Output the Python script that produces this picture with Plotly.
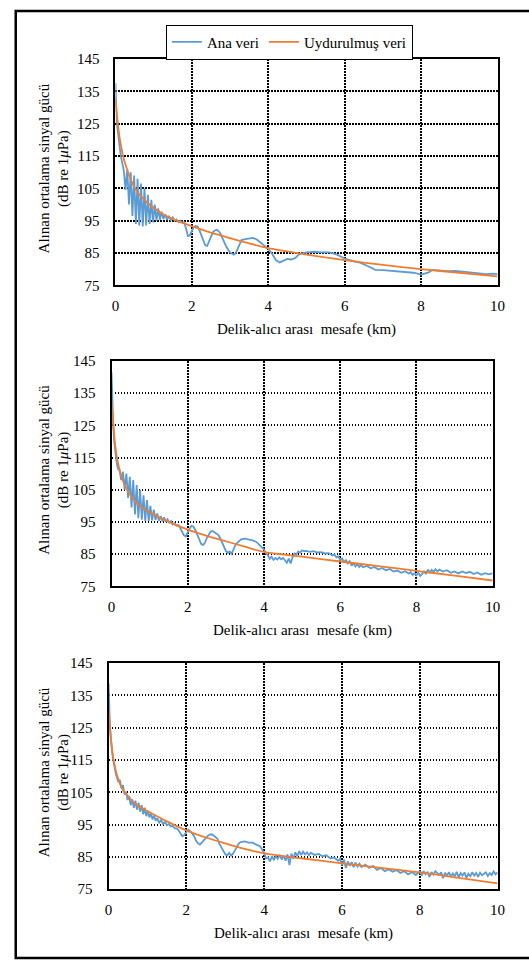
import plotly.graph_objects as go

W, H = 529, 969

# ---------------- data ----------------
# Panel 1
p1_ana_x = [0.000,0.005,0.015,0.03,0.05,0.07,0.09,0.11,0.13,0.15,0.17,0.19,
            0.22,0.265,0.31,0.355,0.40,0.445,0.49,0.535,0.58,0.625,0.67,0.715,0.76,0.805,0.85,0.895,0.94,0.985,
            1.03,1.075,1.12,1.165,1.21,1.255,1.3,1.35,1.4,1.45,1.5,1.55,1.6,1.65,1.7,1.75,1.8,
            1.85,1.9,1.95,2.0,2.05,2.1,2.15,2.2,2.25,2.3,
            2.35,2.4,2.45,2.5,2.55,2.6,2.65,2.7,2.75,2.8,2.85,2.9,2.95,3.0,3.05,3.1,3.15,3.2,3.25,3.3,
            3.4,3.5,3.6,3.7,3.8,3.9,4.0,4.1,4.2,4.3,4.4,4.5,4.6,4.7,4.8,4.9,5.0,5.2,5.4,5.6,
            5.8,6.0,6.2,6.4,6.6,6.8,7.0,7.2,7.4,7.6,7.8,8.0,8.1,8.2,8.3,8.5,8.7,8.9,9.1,9.3,
            9.5,9.7,9.9,10.0]
p1_ana_y = [137.5,134,131,127,124,121.5,119.5,118,116,114.5,113.5,112,
            110.5,104.5,110.8,100,110,96.5,109,94,108,93.5,106.5,93.2,105,93.5,103,94,101.5,94.5,
            100,95,98.8,95.3,97.8,95.5,97,95.3,96.5,95.2,96,95,95.4,94.6,95,94.4,94.5,
            92.5,90.2,90.5,92,93,93.4,93.2,92,90.5,88.8,
            87.4,87.2,88.6,90.3,91.4,92,92.2,91.8,91,89.6,88.2,87,86,85.2,84.8,84.5,85,86.5,88,89,
            89.3,89.6,89.7,89.2,88.3,87.3,86.3,84.8,82.8,82.1,82.7,83.2,83,83.4,84.5,85,85.2,85.4,85.2,85.2,
            84.5,83.3,82.6,82,81,79.8,79.7,79.5,79.3,79.3,78.9,78.3,78.6,79,79.8,79.6,79.4,79.5,79.2,79,
            78.7,78.5,78.6,78.5]
p1_fit_x = [0, 0.05, 0.1, 0.15, 0.2, 0.3, 0.4, 0.5, 0.6, 0.8, 1.0, 1.25, 1.5, 2, 2.5, 3, 3.5, 4, 5, 6, 7, 8, 9, 10]
p1_fit_y = [132.8, 126.5, 121.5, 118, 115, 111, 107.8, 105.3, 103.5, 101, 99, 97, 95.5, 93.3, 91.3, 89.6, 88,
            86.5, 84.5, 82.8, 81.3, 80, 78.9, 77.8]

# Panel 2
p2_ana_x = [0,0.01,0.03,0.05,0.07,0.09,0.11,0.13,0.15,0.17,
            0.21,0.255,0.30,0.345,0.39,0.435,0.48,0.525,0.57,0.615,0.66,0.705,0.75,0.795,0.84,0.885,0.93,0.975,
            1.02,1.065,1.11,1.155,1.2,1.245,1.29,1.335,1.38,1.425,1.47,1.515,1.56,1.6,
            1.65,1.7,1.75,1.8,1.85,1.9,1.95,2.0,2.05,2.1,2.15,2.2,2.25,2.3,
            2.35,2.4,2.45,2.5,2.55,2.6,2.65,2.7,2.75,2.8,2.85,2.9,2.95,3.0,3.05,3.1,3.15,3.2,3.25,3.3,
            3.35,3.4,3.5,3.6,3.7,3.8,3.9,3.95,4.0,4.05,4.1,4.15,4.2,4.25,4.3,4.35,4.4,4.45,4.5,4.55,
            4.6,4.65,4.7,4.75,4.8,4.85,4.9,4.95,5.0,5.05,5.1,5.2,5.3,5.4,5.5,5.6,5.7,5.8,5.85,5.9,
            5.95,6.0,6.05,6.1,6.15,6.2,6.25,6.3,6.35,6.4,6.45,6.5,6.55,6.6,6.7,6.8,6.9,7.0,7.1,7.2,
            7.3,7.4,7.5,7.6,7.7,7.8,7.85,7.9,7.95,8.0,8.05,8.1,8.15,8.2,8.25,8.3,8.35,8.4,8.45,8.5,
            8.55,8.6,8.7,8.8,8.9,9.0,9.1,9.2,9.3,9.4,9.5,9.6,9.7,9.8,9.9,10.0]
p2_ana_y = [141.5,136,129,124,120,117.5,115.5,114,112.5,111.5,
            111,108,110.6,105,110,102.5,109,99.5,108,97.3,106.5,96.2,105,95.7,103.3,95.3,101.8,95.3,
            100,95.5,98.8,95.6,97.6,95.4,96.8,95.2,96.4,95,95.8,94.8,95.3,94.2,
            94.6,93.8,94,93.2,92,90.8,90.5,91.8,93,93.8,93.5,92.5,91,89.5,
            88.2,87.8,88.5,90,91.2,92,92.2,91.8,91.3,91,90,88.5,87,86,85.4,85.8,85.1,86.5,87.8,88.5,
            89.2,89.6,89.8,89.6,89.3,88.8,87.8,87.2,86.5,85.2,84.8,83.5,84.2,83.2,83.8,83.3,84,83.4,83.8,83.1,
            82.3,83.6,82.1,84,85.2,84.8,85.8,85.5,86.2,85.9,86,85.7,85.9,85.5,85.6,85.2,85.3,84.6,84.9,84,
            84.3,83.2,83.7,82.6,83.1,82.1,82.8,81.4,82.2,81.2,81.9,81,81.6,80.9,81.3,80.6,81,80.2,80.7,80,
            80.4,79.6,79.9,79.2,79.7,78.9,79.4,78.5,79,78.4,79.2,78.2,79.1,79.6,78.8,80.2,79.3,80.1,79.5,80.3,
            79.6,80.2,79.6,80,79.2,79.6,79,79.6,79.1,79.5,78.8,79.3,78.6,79.1,78.7,79]
p2_fit_x = [0, 0.05, 0.1, 0.15, 0.2, 0.3, 0.4, 0.5, 0.7, 1.0, 1.5, 2, 2.5, 3, 3.5, 4, 5, 6, 7, 8, 9, 10]
p2_fit_y = [132.5, 125, 118.5, 114.5, 111.8, 107.8, 105.2, 103.2, 100.4, 98, 95, 92.6, 90.7, 89, 87.3, 85.7,
            84.2, 82.7, 81.3, 79.8, 78.3, 76.8]

# Panel 3
p3_ana_x = [0,0.01,0.03,0.05,0.07,0.09,0.11,0.13,0.15,0.17,0.19,
            0.21,0.25,0.29,0.33,0.37,0.41,0.45,0.49,0.53,0.57,0.61,0.65,0.69,0.73,0.77,0.81,0.85,0.89,0.93,0.97,
            1.01,1.05,1.09,1.13,1.17,1.21,1.25,1.3,1.35,1.4,1.45,1.5,1.55,1.6,1.65,1.7,1.75,1.8,
            1.85,1.9,1.95,2.0,2.05,2.1,2.15,2.2,2.25,2.3,
            2.35,2.4,2.45,2.5,2.55,2.6,2.65,2.7,2.75,2.8,2.85,2.9,2.95,3.0,3.05,3.1,3.15,3.2,3.25,3.3,
            3.35,3.4,3.5,3.6,3.7,3.8,3.9,3.95,4.0,4.05,4.1,4.15,4.2,4.25,4.3,4.35,4.4,4.45,4.5,4.55,
            4.6,4.65,4.7,4.75,4.8,4.85,4.9,4.95,5.0,5.05,5.1,5.15,5.2,5.3,5.4,5.5,5.6,5.7,5.8,5.9,
            5.95,6.0,6.05,6.1,6.15,6.2,6.25,6.3,6.35,6.4,6.45,6.5,6.6,6.7,6.8,6.9,7.0,7.1,7.2,7.3,
            7.4,7.5,7.6,7.7,7.8,7.9,8.0,8.05,8.1,8.15,8.2,8.25,8.3,8.35,8.4,8.5,8.55,8.6,8.65,8.7,
            8.75,8.8,8.85,8.9,8.95,9.0,9.05,9.1,9.15,9.2,9.25,9.3,9.35,9.4,9.45,9.5,9.55,9.6,9.7,9.75,
            9.8,9.85,9.9,9.95,10.0]
p3_ana_y = [138.7,133,127,123,119.5,117,115.5,114.5,112.8,111.8,110.5,
            109.8,108.2,108.8,106.2,107.2,104.3,105.2,102.6,103.8,101,102.8,100.2,102.4,99.6,101.8,99,101,98.2,100.2,97.6,
            99.2,97.2,98.4,96.6,97.8,96.2,97,95.6,96.4,95.2,95.8,94.8,95.2,94.4,94.6,93.8,93.8,93.2,
            92.2,91.4,91.8,92.8,93.4,93,92.2,91.4,90,89.2,
            88.8,89.5,90.3,91,91.5,91.9,92,91.6,91,90.6,89,87.8,86.6,85.8,85.5,86.2,85.4,86,87,88.3,
            89.2,89.6,89.8,89.4,89.4,88.8,88.2,87.2,86.3,84.5,84.8,83.6,85.2,84,85.3,84.4,85.6,84.2,85.4,83.8,
            85.8,82.5,86,84.4,86.4,85.2,86.8,85.6,86.6,85.8,86.4,85.5,86.3,85.6,85.9,85.2,85.5,84.6,84.8,83.8,
            84.4,82.4,84.2,81.6,83.6,82.2,83.4,81.8,83.2,82,82.9,81.9,82.6,81.6,82.2,81,81.6,80.6,81.2,80.4,
            80.9,80,80.6,79.6,80.3,79.4,80.5,79.2,80.6,79.6,80.4,78.8,80.3,79.5,80.6,79.4,80.2,78.4,80.1,79.2,
            80.3,78.8,79.9,79,80.4,78.6,80,79.2,80.2,78.5,79.8,79,80.3,79.2,80,78.8,80.1,79.3,80.2,79.1,
            80,79.4,80.5,79.6,80.2]
p3_fit_x = [0, 0.05, 0.1, 0.15, 0.2, 0.3, 0.4, 0.5, 0.7, 1.0, 1.5, 2, 2.5, 3, 3.5, 4, 5, 6, 7, 8, 9, 10]
p3_fit_y = [130.6, 123, 117.2, 113.6, 111, 107.4, 105.1, 103.8, 101.3, 99.2, 96, 93.2, 91, 89.2, 87.5, 86.1,
            84.5, 83, 81.6, 80.2, 78.5, 76.8]

x_ticks = [0, 2, 4, 6, 8, 10]
y_ticks = [75, 85, 95, 105, 115, 125, 135, 145]
series_names = ["Ana veri", "Uydurulmuş veri"]
x_title = "Delik-alıcı arası  mesafe (km)"
y_title_1 = "Alınan ortalama sinyal gücü"
y_title_2 = "(dB re 1<i>μ</i>Pa)"

BLUE = "#5B9BD5"
ORANGE = "#ED7D31"
FONT = "Liberation Serif, Times New Roman, Tinos, DejaVu Serif, serif"

# panel pixel boxes: (left, right, top, bottom)
boxes = [(114, 505, 52, 282), (110, 500, 359, 588), (107, 505, 666, 896)]
panels = [(p1_ana_x, p1_ana_y, p1_fit_x, p1_fit_y),
          (p2_ana_x, p2_ana_y, p2_fit_x, p2_fit_y),
          (p3_ana_x, p3_ana_y, p3_fit_x, p3_fit_y)]

def px(x):
    return x / W

def py(y):
    return 1 - y / H

fig = go.Figure()
annotations = []
for i, ((ax, ay, fx, fy), (l, r, t, b)) in enumerate(zip(panels, boxes)):
    n = "" if i == 0 else str(i + 1)
    fig.add_trace(go.Scatter(x=ax, y=ay, mode="lines", name=series_names[0],
                             line=dict(color=BLUE, width=1.8), showlegend=(i == 0),
                             xaxis="x" + n, yaxis="y" + n))
    fig.add_trace(go.Scatter(x=fx, y=fy, mode="lines", name=series_names[1],
                             line=dict(color=ORANGE, width=1.8, shape="spline", smoothing=0.8),
                             showlegend=(i == 0), xaxis="x" + n, yaxis="y" + n))
    axis_common = dict(showline=True, linecolor="black", linewidth=2, mirror=True,
                       showgrid=True, gridcolor="black", griddash="1.5px,1.5px", gridwidth=1.5,
                       zeroline=False, ticks="", tickfont=dict(family=FONT, size=15, color="black"))
    fig.update_layout(**{
        "xaxis" + n: dict(domain=[px(l), px(r)], range=[0, 10], tickvals=x_ticks,
                          anchor="y" + n, ticklabelstandoff=6, **axis_common),
        "yaxis" + n: dict(domain=[py(b), py(t)], range=[75, 145], tickvals=y_ticks,
                          anchor="x" + n, ticklabelstandoff=11, **axis_common),
    })
    mid_y = (t + b) / 2 - 4
    annotations.append(dict(text=y_title_1, x=px(41), y=py(mid_y), xref="paper", yref="paper",
                            textangle=-90, showarrow=False, xanchor="center", yanchor="middle",
                            font=dict(family=FONT, size=15, color="black")))
    annotations.append(dict(text=y_title_2, x=px(61), y=py(mid_y), xref="paper", yref="paper",
                            textangle=-90, showarrow=False, xanchor="center", yanchor="middle",
                            font=dict(family=FONT, size=15, color="black")))
    annotations.append(dict(text=x_title, x=px((l + r) / 2), y=py(b + 45), xref="paper", yref="paper",
                            showarrow=False, xanchor="center", yanchor="middle",
                            font=dict(family=FONT, size=15, color="black")))

fig.update_layout(
    width=W, height=H, margin=dict(l=0, r=0, t=0, b=0),
    paper_bgcolor="white", plot_bgcolor="white",
    annotations=annotations,
    showlegend=True,
    legend=dict(orientation="h", x=px(292), xanchor="center", y=py(17), yanchor="top",
                bordercolor="black", borderwidth=1, bgcolor="white",
                font=dict(family=FONT, size=15, color="black"),
                itemwidth=30, tracegroupgap=0),
    shapes=[dict(type="rect", xref="paper", yref="paper",
                 x0=px(12), x1=1.05, y0=py(966), y1=py(3),
                 line=dict(color="black", width=2.5))],
)

fig.write_html("out.html")
